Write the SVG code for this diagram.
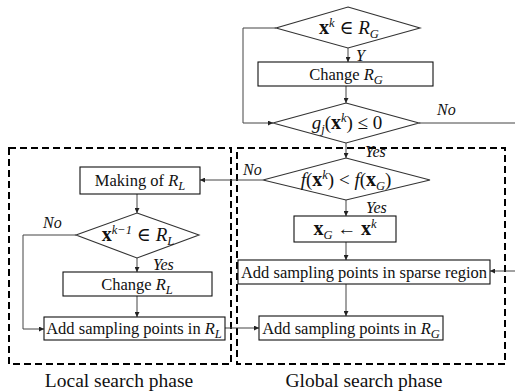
<svg xmlns="http://www.w3.org/2000/svg" width="515" height="391" viewBox="0 0 515 391" font-family="'Liberation Serif', 'DejaVu Serif', serif">
  <style>
    .box { fill: #fff; stroke: #111; stroke-width: 1.1; }
    .dia { fill: #fff; stroke: #333; stroke-width: 1.1; }
    .phase { fill: none; stroke: #000; stroke-width: 2; stroke-dasharray: 7 4; }
    .wire { fill: none; stroke: #444; stroke-width: 1; }
    text { font-family: "Liberation Serif", "DejaVu Serif", serif; fill: #111; }
    .t { font-size: 16.5px; text-anchor: middle; }
    .m { font-size: 19px; text-anchor: middle; }
    .lbl { font-size: 16px; font-style: italic; }
    .cap { font-size: 19.5px; text-anchor: middle; }
    .i { font-style: italic; }
    .b { font-weight: bold; font-size: 20px; }
    .s { font-size: 12.5px; font-style: italic; }
  </style>
  <defs>
    <marker id="arr" viewBox="0 0 10 10" refX="10" refY="5" markerWidth="5" markerHeight="5" orient="auto" markerUnits="userSpaceOnUse">
      <path d="M0,0 L10,5 L0,10 z" fill="#222"/>
    </marker>
  </defs>

  <!-- phase frames -->
  <g id="local-phase">
    <rect class="phase" x="9" y="148" width="222" height="216"/>
    <text class="cap" x="119" y="387">Local search phase</text>
  </g>
  <g id="global-phase">
    <rect class="phase" x="237" y="148" width="268" height="216"/>
    <text class="cap" x="364" y="387">Global search phase</text>
  </g>

  <!-- connectors -->
  <g id="connectors">
    <path class="wire" d="M276,28 H243 V123 H273" marker-end="url(#arr)"/>
    <path class="wire" d="M348,48 V62" marker-end="url(#arr)"/>
    <path class="wire" d="M346,86 V103" marker-end="url(#arr)"/>
    <path class="wire" d="M419,123 H515"/>
    <path class="wire" d="M346,143 V158" marker-end="url(#arr)"/>
    <path class="wire" d="M263,180 H200" marker-end="url(#arr)"/>
    <path class="wire" d="M346,200 V216" marker-end="url(#arr)"/>
    <path class="wire" d="M346,242 V260" marker-end="url(#arr)"/>
    <path class="wire" d="M515,271 H490" marker-end="url(#arr)"/>
    <path class="wire" d="M346,284 V316" marker-end="url(#arr)"/>
    <path class="wire" d="M137,194 V213" marker-end="url(#arr)"/>
    <path class="wire" d="M76,235 H23 V329 H44" marker-end="url(#arr)"/>
    <path class="wire" d="M137,258 V272" marker-end="url(#arr)"/>
    <path class="wire" d="M137,296 V317" marker-end="url(#arr)"/>
    <path class="wire" d="M225,328 H259" marker-end="url(#arr)"/>
    <text class="lbl" x="356" y="61">Y</text>
    <text class="lbl" x="437" y="115">No</text>
    <text class="lbl" x="365" y="157">Yes</text>
    <text class="lbl" x="243" y="175">No</text>
    <text class="lbl" x="366" y="213">Yes</text>
    <text class="lbl" x="43" y="228">No</text>
    <text class="lbl" x="153" y="270">Yes</text>
  </g>

  <!-- global search nodes -->
  <g id="in-region-check">
    <polygon class="dia" points="348,7 420,28 348,48 276,28"/>
    <text class="m" x="349" y="34"><tspan class="b">x</tspan><tspan class="s" dy="-7">k</tspan><tspan dy="7"> ∈ </tspan><tspan class="i">R</tspan><tspan class="s" dy="4">G</tspan></text>
  </g>
  <g id="change-rg">
    <rect class="box" x="258" y="62" width="175" height="24"/>
    <text class="t" x="346" y="80">Change <tspan class="i">R</tspan><tspan class="s" dy="4">G</tspan></text>
  </g>
  <g id="constraint-check">
    <polygon class="dia" points="346,103 419,123 346,143 273,123"/>
    <text class="m" x="347" y="129"><tspan class="i">g</tspan><tspan class="s" dy="4">j</tspan><tspan dy="-4">(</tspan><tspan class="b">x</tspan><tspan class="s" dy="-7">k</tspan><tspan dy="7">) ≤ 0</tspan></text>
  </g>
  <g id="improve-check">
    <polygon class="dia" points="346,158 430,180 346,200 263,180"/>
    <text class="m" x="346" y="186"><tspan class="i">f</tspan>(<tspan class="b">x</tspan><tspan class="s" dy="-7">k</tspan><tspan dy="7">) &lt; </tspan><tspan class="i">f</tspan>(<tspan class="b">x</tspan><tspan class="s" dy="4">G</tspan><tspan dy="-4">)</tspan></text>
  </g>
  <g id="update-best">
    <rect class="box" x="294" y="216" width="102" height="26"/>
    <text class="m" x="345" y="235"><tspan class="b">x</tspan><tspan class="s" dy="4">G</tspan><tspan dy="-4"> ← </tspan><tspan class="b">x</tspan><tspan class="s" dy="-7">k</tspan></text>
  </g>
  <g id="sparse-sampling">
    <rect class="box" x="238" y="260" width="252" height="24"/>
    <text class="t" x="364" y="278">Add sampling points in sparse region</text>
  </g>
  <g id="rg-sampling">
    <rect class="box" x="259" y="316" width="184" height="24"/>
    <text class="t" x="351" y="334">Add sampling points in <tspan class="i">R</tspan><tspan class="s" dy="4">G</tspan></text>
  </g>

  <!-- local search nodes -->
  <g id="making-rl">
    <rect class="box" x="80" y="167" width="120" height="27"/>
    <text class="t" x="140" y="186">Making of <tspan class="i">R</tspan><tspan class="s" dy="4">L</tspan></text>
  </g>
  <g id="prev-in-rl-check">
    <polygon class="dia" points="137,213 199,235 137,258 76,235"/>
    <text class="m" x="138" y="241"><tspan class="b">x</tspan><tspan class="s" dy="-7">k−1</tspan><tspan dy="7"> ∈ </tspan><tspan class="i">R</tspan><tspan class="s" dy="4">L</tspan></text>
  </g>
  <g id="change-rl">
    <rect class="box" x="63" y="272" width="149" height="24"/>
    <text class="t" x="137" y="290">Change <tspan class="i">R</tspan><tspan class="s" dy="4">L</tspan></text>
  </g>
  <g id="rl-sampling">
    <rect class="box" x="44" y="317" width="181" height="23"/>
    <text class="t" x="134" y="334">Add sampling points in <tspan class="i">R</tspan><tspan class="s" dy="4">L</tspan></text>
  </g>
</svg>
